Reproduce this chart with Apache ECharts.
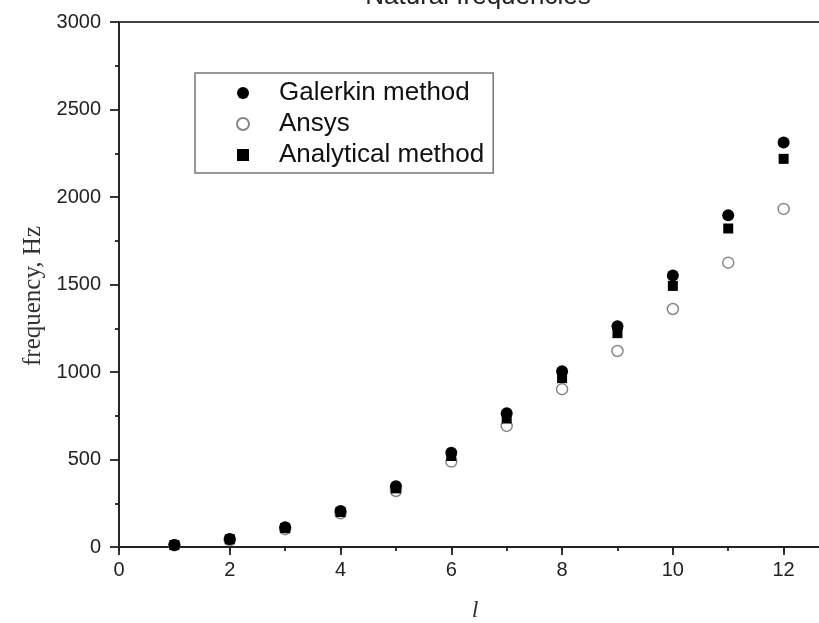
<!DOCTYPE html>
<html>
<head>
<meta charset="utf-8">
<script src="https://cdn.jsdelivr.net/npm/echarts@6/dist/echarts.min.js"></script>
<style>html,body{margin:0;padding:0;background:#fff;}#c{width:819px;height:623px;}</style>
</head>
<body>
<div id="c"></div>
<script>
const modes = [1, 2, 3, 4, 5, 6, 7, 8, 9, 10, 11, 12];
const galerkin = [12, 46, 113, 206, 347, 538, 765, 1005, 1262, 1552, 1896, 2312];
const ansys = [10, 40, 102, 193, 320, 488, 692, 902, 1120, 1360, 1625, 1932];
const analytical = [11, 44, 108, 200, 335, 520, 734, 965, 1222, 1492, 1820, 2218];
const seriesNames = ['Galerkin method', 'Ansys', 'Analytical method'];
const titleText = 'Natural frequencies';
const yName = 'frequency, Hz';
const xName = 'l';

const pairs = arr => modes.map((m, i) => [m, arr[i]]);
const SANS = '"Liberation Sans", Arial, sans-serif';
const SERIF = '"Liberation Serif", "Times New Roman", serif';

const chart = echarts.init(document.getElementById('c'), null, {renderer: 'canvas'});
chart.setOption({
  animation: false,
  backgroundColor: '#fff',
  graphic: [
    {type: 'text', x: 478, y: 10, z: 10,
     style: {text: titleText, font: '26px ' + SANS, fill: '#222', textAlign: 'center', textVerticalAlign: 'bottom'}},
    {type: 'text', x: 33, y: 296, rotation: Math.PI / 2, z: 10,
     style: {text: yName, font: '25px ' + SERIF, fill: '#333', textAlign: 'center', textVerticalAlign: 'middle'}}
  ],
  grid: {left: 119, top: 22, height: 525, width: 720, show: true, borderColor: '#444', borderWidth: 1.8,
         backgroundColor: 'transparent', containLabel: false, outerBoundsMode: 'none'},
  legend: {
    left: 195, top: 73, orient: 'vertical',
    data: seriesNames,
    itemWidth: 12, itemHeight: 12, itemGap: 5,
    padding: [7, 9, 5, 41],
    borderColor: '#777', borderWidth: 1.5, backgroundColor: '#fff',
    textStyle: {fontFamily: SANS, fontSize: 26, lineHeight: 26, color: '#111', padding: [0, 0, 0, 25]}
  },
  xAxis: [
    {type: 'value', position: 'bottom', min: 0, max: 13, interval: 2,
     name: xName, nameLocation: 'middle', nameGap: 52,
     nameTextStyle: {fontFamily: SERIF, fontStyle: 'italic', fontSize: 24, color: '#333', padding: [0, 8, 0, 0]},
     axisLine: {show: true, onZero: false, lineStyle: {color: '#222', width: 1.8}},
     axisTick: {show: true, inside: false, length: 8, lineStyle: {color: '#222', width: 1.8}},
     axisLabel: {fontFamily: SANS, fontSize: 20, color: '#222', margin: 13, showMaxLabel: false},
     splitLine: {show: false}},
    {type: 'value', position: 'bottom', min: 0, max: 13, interval: 1,
     axisLine: {show: false, onZero: false},
     axisTick: {show: true, inside: false, length: 4, lineStyle: {color: '#222', width: 1.8}},
     axisLabel: {show: false},
     splitLine: {show: false}}
  ],
  yAxis: {
    type: 'value', min: 0, max: 3000, interval: 500,
    axisLine: {show: true, onZero: false, lineStyle: {color: '#222', width: 1.8}},
    axisTick: {show: true, inside: false, length: 9, lineStyle: {color: '#222', width: 1.8}},
    minorTick: {show: true, splitNumber: 2, length: 4, lineStyle: {color: '#222', width: 1.8}},
    axisLabel: {fontFamily: SANS, fontSize: 20, color: '#222', margin: 18, formatter: v => String(v)},
    splitLine: {show: false}
  },
  series: [
    {name: seriesNames[0], type: 'scatter', data: pairs(galerkin), symbol: 'circle', symbolSize: 12, z: 4,
     itemStyle: {color: '#000', opacity: 1}},
    {name: seriesNames[1], type: 'scatter', data: pairs(ansys), symbol: 'circle', symbolSize: 11, z: 2,
     itemStyle: {color: '#fff', borderColor: '#888', borderWidth: 1.5, opacity: 1}},
    {name: seriesNames[2], type: 'scatter', data: pairs(analytical), symbol: 'rect', symbolSize: 10, z: 3,
     itemStyle: {color: '#000', opacity: 1}}
  ]
});
</script>
</body>
</html>
